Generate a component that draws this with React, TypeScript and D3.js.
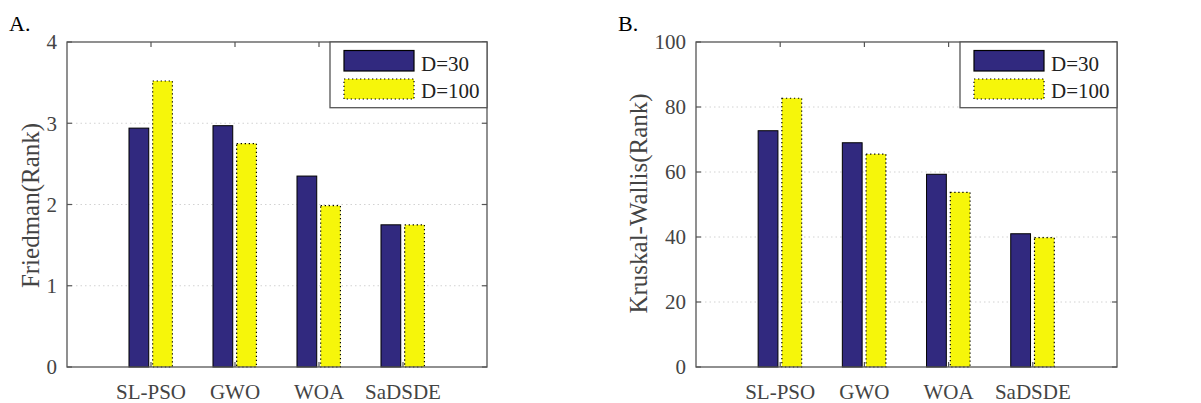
import React from "react";
import * as d3 from "d3";

const categories = ["SL-PSO", "GWO", "WOA", "SaDSDE"];
const seriesNames = ["D=30", "D=100"];
const friedman30 = [2.94, 2.97, 2.35, 1.75];
const friedman100 = [3.52, 2.75, 1.985, 1.75];
const kruskal30 = [72.7, 69.0, 59.3, 41.0];
const kruskal100 = [82.7, 65.5, 53.75, 39.8];
const friedmanTicks = [0, 1, 2, 3, 4];
const kruskalTicks = [0, 20, 40, 60, 80, 100];

const BLUE = "#31297f";
const YELLOW = "#f6f60a";
const AXIS = "#555";
const TEXT = "#444";
const FONT = "'Liberation Serif', 'Times New Roman', serif";

type PanelProps = {
  left: number;
  right: number;
  label: string;
  labelX: number;
  yTitle: string;
  yTitleX: number;
  yTitleY: number;
  s1: number[];
  s2: number[];
  ticks: number[];
  yMax: number;
};

function Panel({ left, right, label, labelX, yTitle, yTitleX, yTitleY, s1, s2, ticks, yMax }: PanelProps) {
  const top = 42;
  const bottom = 367;
  const x = d3.scaleLinear().domain([0, categories.length + 1]).range([left, right]);
  const y = d3.scaleLinear().domain([0, yMax]).range([bottom, top]);
  const step = x(1) - x(0);
  const bw = step * 0.235;
  const tickLen = 5;
  const legL = right - 157;
  const legB = 107.7;
  return (
    <g fontFamily={FONT}>
      <text x={labelX} y={31} fontSize={22} fill="#000">{label}</text>
      {ticks.filter((t) => t !== 0 && t !== yMax).map((t) => (
        <line key={"g" + t} x1={left} x2={right} y1={y(t)} y2={y(t)} stroke="#d2d2d2" strokeWidth={1} strokeDasharray="1.5 3" />
      ))}
      {categories.map((c, i) => (
        <g key={c}>
          <rect x={x(i + 1) - step * 0.262} y={y(s1[i])} width={bw} height={y(0) - y(s1[i])} fill={BLUE} stroke="#000" strokeWidth={1} />
          <rect x={x(i + 1) + step * 0.02} y={y(s2[i])} width={bw} height={y(0) - y(s2[i])} fill={YELLOW} stroke="#000" strokeWidth={1.2} strokeDasharray="1.3 2.7" />
        </g>
      ))}
      <rect x={left} y={top} width={right - left} height={bottom - top} fill="none" stroke={AXIS} strokeWidth={1.3} />
      {ticks.map((t) => (
        <g key={"t" + t}>
          <line x1={left} x2={left + tickLen} y1={y(t)} y2={y(t)} stroke={AXIS} strokeWidth={1.2} />
          <line x1={right} x2={right - tickLen} y1={y(t)} y2={y(t)} stroke={AXIS} strokeWidth={1.2} />
          <text x={left - 10} y={y(t)} dy="0.35em" textAnchor="end" fontSize={21} fill={TEXT}>{t}</text>
        </g>
      ))}
      {categories.map((c, i) => (
        <g key={"x" + c}>
          <line x1={x(i + 1)} x2={x(i + 1)} y1={bottom} y2={bottom - tickLen} stroke={AXIS} strokeWidth={1.2} />
          <line x1={x(i + 1)} x2={x(i + 1)} y1={top} y2={top + tickLen} stroke={AXIS} strokeWidth={1.2} />
          <text x={x(i + 1)} y={399} textAnchor="middle" fontSize={21} fill={TEXT}>{c}</text>
        </g>
      ))}
      <text transform={`translate(${yTitleX},${yTitleY}) rotate(-90)`} textAnchor="middle" dy="0.35em" fontSize={25} fill={TEXT}>{yTitle}</text>
      <rect x={legL} y={top} width={right - legL} height={legB - top} fill="#fff" stroke={AXIS} strokeWidth={1.3} />
      <rect x={legL + 14} y={50.5} width={70} height={20.5} fill={BLUE} stroke="#000" strokeWidth={1.2} />
      <rect x={legL + 14} y={79} width={70} height={20} fill={YELLOW} stroke="#000" strokeWidth={1.2} strokeDasharray="1.3 2.7" />
      <text x={legL + 91} y={71} fontSize={21} fill="#222">{seriesNames[0]}</text>
      <text x={legL + 91} y={98} fontSize={21} fill="#222">{seriesNames[1]}</text>
    </g>
  );
}

export default function App() {
  return (
    <svg width={1201} height={403} style={{ position: "absolute", left: 0, top: 0, background: "#fff" }}>
      <rect width={1201} height={403} fill="#fff" />
      <Panel left={67} right={487} label="A." labelX={9} yTitle="Friedman(Rank)" yTitleX={30} yTitleY={205.5} s1={friedman30} s2={friedman100} ticks={friedmanTicks} yMax={4} />
      <Panel left={696} right={1117} label="B." labelX={618} yTitle="Kruskal-Wallis(Rank)" yTitleX={638} yTitleY={203.5} s1={kruskal30} s2={kruskal100} ticks={kruskalTicks} yMax={100} />
    </svg>
  );
}
